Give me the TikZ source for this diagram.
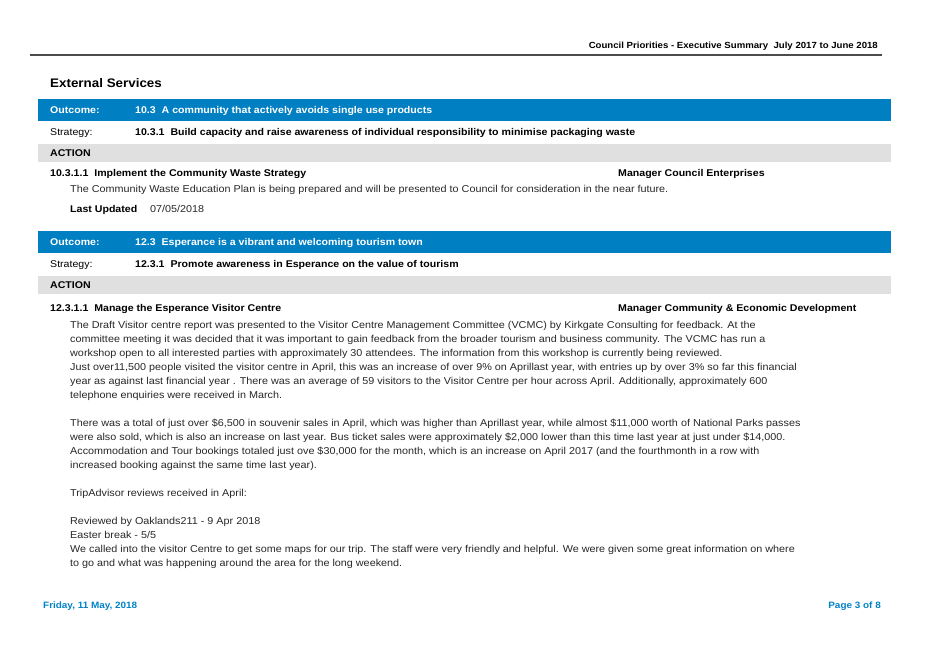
\documentclass[tikz,border=0pt]{standalone}
\usepackage{fontspec}
\setmainfont{Liberation Sans}
\newfontfamily\wideF[FakeStretch=1.08]{Liberation Sans}
\definecolor{bbar}{RGB}{0,127,195}
\definecolor{gbar}{RGB}{224,224,224}
\definecolor{btxt}{RGB}{40,40,40}
\definecolor{foot}{RGB}{0,130,200}
\begin{document}
\begin{tikzpicture}[x=1pt,y=-1pt,
  lab/.style={anchor=base west,inner sep=0pt,font=\wideF\fontsize{9.8}{11}\selectfont\bfseries,text=black},
  reg/.style={anchor=base west,inner sep=0pt,font=\wideF\fontsize{9.8}{11}\selectfont,text=black},
  body/.style={anchor=base west,inner sep=0pt,font=\wideF\fontsize{10}{11}\selectfont,text=btxt},
  wlab/.style={lab,text=white}]
\useasboundingbox[fill=white] (0,0) rectangle (928,657);
\node[anchor=base east,inner sep=0pt,font=\wideF\fontsize{8.9}{11}\selectfont\bfseries] (hdr) at (878,48) {Council Priorities - Executive Summary\ \ July 2017 to June 2018};
\draw[line width=1.5pt,black!70] (30,55) -- (882,55);
\node[anchor=base west,inner sep=0pt,font=\wideF\fontsize{12.4}{14}\selectfont\bfseries] (ext) at (50,87) {External Services};
% section 1
\fill[bbar] (38,99) rectangle (891,121);
\node[wlab] (o1) at (50,113) {Outcome:};
\node[wlab] (o1t) at (135,113) {10.3\ \ A community that actively avoids single use products};
\node[reg] (s1) at (50,135) {Strategy:};
\node[lab] (s1t) at (135,135) {10.3.1\ \ Build capacity and raise awareness of individual responsibility to minimise packaging waste};
\fill[gbar] (38,144) rectangle (891,162);
\node[lab] (a1) at (50,156) {ACTION};
\node[lab] (i1) at (50,176) {10.3.1.1\ \ Implement the Community Waste Strategy};
\node[lab] (m1) at (618,176) {Manager Council Enterprises};
\node[body] (b1) at (70,192) {The Community Waste Education Plan is being prepared and will be presented to Council for consideration in the near future.};
\node[lab] (lu) at (70,212) {Last Updated};
\node[body] (lud) at (150,212) {07/05/2018};
% section 2
\fill[bbar] (38,231) rectangle (891,253);
\node[wlab] (o2) at (50,245) {Outcome:};
\node[wlab] (o2t) at (135,245) {12.3\ \ Esperance is a vibrant and welcoming tourism town};
\node[reg] (s2) at (50,267) {Strategy:};
\node[lab] (s2t) at (135,267) {12.3.1\ \ Promote awareness in Esperance on the value of tourism};
\fill[gbar] (38,276) rectangle (891,294);
\node[lab] (a2) at (50,288) {ACTION};
\node[lab] (i2) at (50,311) {12.3.1.1\ \ Manage the Esperance Visitor Centre};
\node[lab] (m2) at (618,311) {Manager Community \& Economic Development};
\foreach \y/\t in {
328/{The Draft Visitor centre report was presented to the Visitor Centre Management Committee (VCMC) by Kirkgate Consulting for feedback. At the},
342/{committee meeting it was decided that it was important to gain feedback from the broader tourism and business community. The VCMC has run a},
356/{workshop open to all interested parties with approximately 30 attendees. The information from this workshop is currently being reviewed.},
370/{Just over11,500 people visited the visitor centre in April, this was an increase of over 9\% on Aprillast year, with entries up by over 3\% so far this financial},
384/{year as against last financial year . There was an average of 59 visitors to the Visitor Centre per hour across April. Additionally, approximately 600},
398/{telephone enquiries were received in March.},
426/{There was a total of just over \$6,500 in souvenir sales in April, which was higher than Aprillast year, while almost \$11,000 worth of National Parks passes},
440/{were also sold, which is also an increase on last year. Bus ticket sales were approximately \$2,000 lower than this time last year at just under \$14,000.},
454/{Accommodation and Tour bookings totaled just ove \$30,000 for the month, which is an increase on April 2017 (and the fourthmonth in a row with},
468/{increased booking against the same time last year).},
496/{TripAdvisor reviews received in April:},
524/{Reviewed by Oaklands211 - 9 Apr 2018},
538/{Easter break - 5/5},
552/{We called into the visitor Centre to get some maps for our trip. The staff were very friendly and helpful. We were given some great information on where},
566/{to go and what was happening around the area for the long weekend.}}
  \node[body] (l\y) at (70,\y) {\t};
\node[anchor=base west,inner sep=0pt,font=\wideF\fontsize{9.2}{11}\selectfont\bfseries,text=foot] (fd) at (43,608) {Friday, 11 May, 2018};
\node[anchor=base east,inner sep=0pt,font=\wideF\fontsize{9.2}{11}\selectfont\bfseries,text=foot] (fp) at (881,608) {Page 3 of 8};
\end{tikzpicture}
\end{document}
